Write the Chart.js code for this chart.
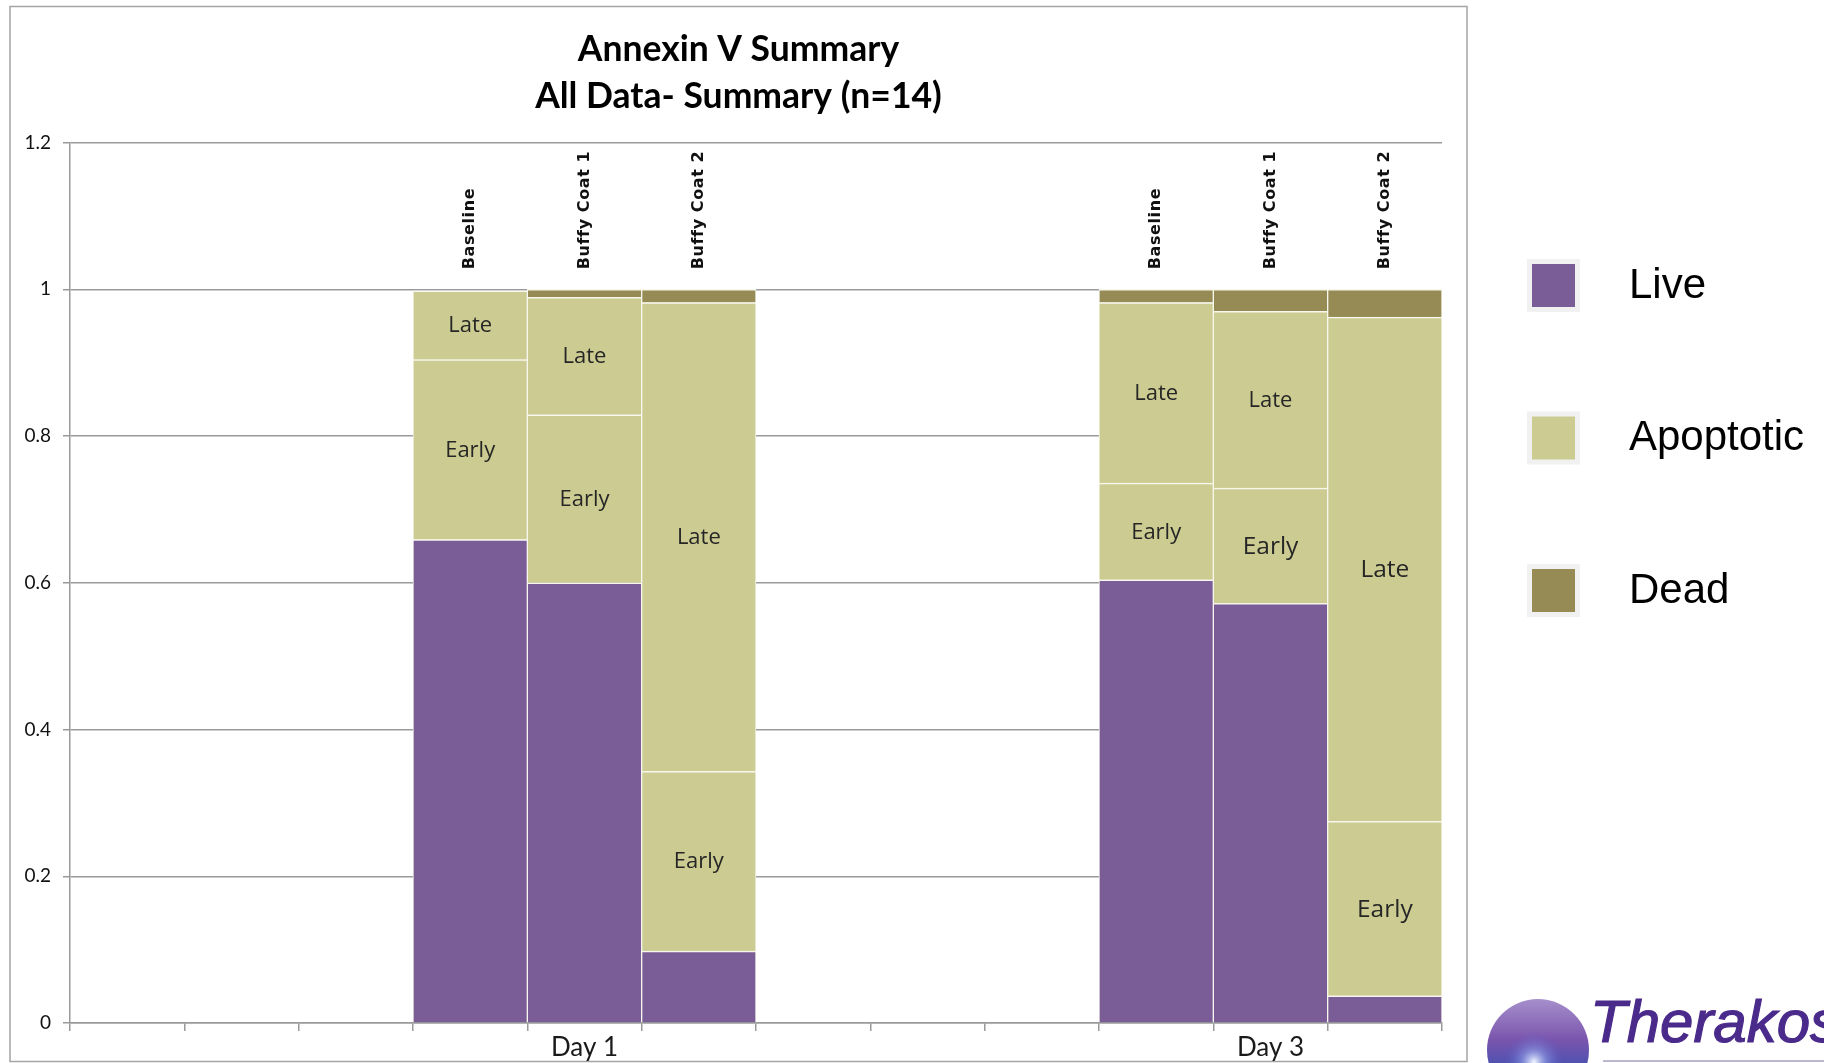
<!DOCTYPE html>
<html><head><meta charset="utf-8">
<script src="https://cdn.jsdelivr.net/npm/chart.js@4.4.1/dist/chart.umd.min.js"></script>
<style>html,body{margin:0;padding:0;background:#fff;overflow:hidden}canvas{display:block}</style>
</head><body>
<canvas id="c" width="1824" height="1063"></canvas>
<script>
// ---- data ----
const categories = ['', '', '', 'Baseline', 'Buffy Coat 1', 'Buffy Coat 2', '', '', '', 'Baseline', 'Buffy Coat 1', 'Buffy Coat 2'];
const dayLabels  = ['', '', '', '', 'Day 1', '', '', '', '', '', 'Day 3', ''];
const yTickLabels = ['0', '0.2', '0.4', '0.6', '0.8', '1', '1.2'];
const liveValues  = [null, null, null, 0.659, 0.600, 0.098, null, null, null, 0.604, 0.572, 0.037];
const earlyValues = [null, null, null, 0.245, 0.229, 0.245, null, null, null, 0.132, 0.157, 0.238];
const lateValues  = [null, null, null, 0.094, 0.160, 0.639, null, null, null, 0.246, 0.241, 0.687];
const deadValues  = [null, null, null, null,  0.011, 0.018, null, null, null, 0.018, 0.030, 0.038];
const titleLines = ['Annexin V Summary', 'All Data- Summary (n=14)'];
const legendLabels = ['Live', 'Apoptotic', 'Dead'];
const segmentTexts = { early: 'Early', late: 'Late' };

// ---- style ----
const LIVE = '#7A5C96', APO = '#CCCC92', DEAD = '#968B55';
const legendColors = [LIVE, APO, DEAD];
const GRID = '#9a9a9a';
const largeSegLabels = { early: [10, 11], late: [11] };

const frame = {
  id: 'frame',
  beforeDraw(chart) {
    const ctx = chart.ctx;
    ctx.save();
    ctx.fillStyle = '#fff';
    ctx.fillRect(0, 0, chart.width, chart.height);
    ctx.strokeStyle = '#a4a4a4';
    ctx.lineWidth = 1.5;
    ctx.strokeRect(10, 6.5, 1457, 1055);
    ctx.restore();
  },
  afterDraw(chart) {
    const ctx = chart.ctx;
    ctx.save();
    // legend
    legendLabels.forEach((lab, i) => {
      const cy = 285.5 + i * 152.5;
      ctx.fillStyle = '#f1f1f1';
      ctx.fillRect(1527, cy - 26.5, 53, 53);
      ctx.fillStyle = legendColors[i];
      ctx.fillRect(1532, cy - 21.5, 43, 43);
      ctx.fillStyle = '#000';
      ctx.font = '42px "Liberation Sans", Arial, sans-serif';
      ctx.textAlign = 'left';
      ctx.textBaseline = 'alphabetic';
      ctx.fillText(lab, 1629, cy + 12);
    });
    // logo
    const cx = 1538, cyg = 1050, r = 51;
    const g = ctx.createLinearGradient(0, cyg - r, 0, cyg + r);
    g.addColorStop(0, '#a68fcc');
    g.addColorStop(0.4, '#7a55ad');
    g.addColorStop(0.72, '#4150b2');
    g.addColorStop(1, '#1d3a9a');
    ctx.beginPath(); ctx.arc(cx, cyg, r, 0, Math.PI * 2); ctx.fillStyle = g; ctx.fill();
    const h = ctx.createRadialGradient(cx - 4, cyg + 12, 1, cx - 4, cyg + 12, 30);
    h.addColorStop(0, 'rgba(240,245,255,0.95)');
    h.addColorStop(0.4, 'rgba(150,170,240,0.5)');
    h.addColorStop(1, 'rgba(80,90,200,0)');
    ctx.beginPath(); ctx.arc(cx, cyg, r, 0, Math.PI * 2); ctx.fillStyle = h; ctx.fill();
    ctx.fillStyle = '#4a2a8a';
    ctx.font = 'italic 60px "Liberation Sans", Arial, sans-serif';
    ctx.textAlign = 'left';
    ctx.lineWidth = 1.2; ctx.strokeStyle = '#4a2a8a';
    ctx.fillText('Therakos', 1590, 1042);
    ctx.strokeText('Therakos', 1590, 1042);
    ctx.strokeStyle = '#a79fc2'; ctx.lineWidth = 1.5;
    ctx.beginPath(); ctx.moveTo(1603, 1061); ctx.lineTo(1824, 1061); ctx.stroke();
    ctx.restore();
  }
};

const barText = {
  id: 'barText',
  afterDatasetsDraw(chart) {
    const ctx = chart.ctx;
    const xs = chart.scales.x, ys = chart.scales.y;
    ctx.save();
    // segment labels
    chart.data.datasets.forEach((ds, di) => {
      if (!ds.segKey) return;
      const meta = chart.getDatasetMeta(di);
      meta.data.forEach((el, i) => {
        if (ds.data[i] == null) return;
        const p = el.getProps(['x', 'y', 'base'], true);
        const big = largeSegLabels[ds.segKey].includes(i);
        ctx.font = (big ? 24.5 : 22) + 'px "Open Sans", sans-serif';
        ctx.fillStyle = '#262626';
        ctx.textAlign = 'center';
        ctx.textBaseline = 'middle';
        ctx.fillText(segmentTexts[ds.segKey], p.x, (p.y + p.base) / 2 + 1);
      });
    });
    // rotated category names
    const yTop = ys.getPixelForValue(1) - 20;
    categories.forEach((c, i) => {
      if (!c) return;
      const x = xs.getPixelForValue(i);
      ctx.save();
      ctx.translate(x, yTop);
      ctx.rotate(-Math.PI / 2);
      ctx.font = 'bold 16px "DejaVu Sans", sans-serif';
      ctx.letterSpacing = '0.6px';
      ctx.fillStyle = '#111';
      ctx.textAlign = 'left';
      ctx.textBaseline = 'middle';
      ctx.fillText(c, 0, 0);
      ctx.restore();
    });
    ctx.restore();
  }
};

const segBorder = { top: 1.5, left: 1, right: 1, bottom: 0 };
const common = { borderColor: '#f7f7ee', borderWidth: segBorder, borderSkipped: false, barPercentage: 1, categoryPercentage: 1 };

new Chart(document.getElementById('c'), {
  type: 'bar',
  data: {
    labels: categories,
    datasets: [
      Object.assign({ label: 'Live', data: liveValues, backgroundColor: LIVE }, common),
      Object.assign({ label: 'Early', data: earlyValues, backgroundColor: APO, segKey: 'early' }, common),
      Object.assign({ label: 'Late', data: lateValues, backgroundColor: APO, segKey: 'late' }, common),
      Object.assign({ label: 'Dead', data: deadValues, backgroundColor: DEAD }, common)
    ]
  },
  options: {
    responsive: false,
    devicePixelRatio: 1,
    animation: false,
    layout: { padding: { left: 10, right: 357, top: 0, bottom: 0 } },
    plugins: {
      legend: { display: false },
      tooltip: { enabled: false },
      title: {
        display: true,
        text: titleLines,
        color: '#000',
        font: { family: 'Lato', size: 35.5, weight: 'bold', lineHeight: 1.324 },
        padding: { top: 26.5, bottom: 22 }
      }
    },
    scales: {
      x: {
        stacked: true,
        offset: true,
        grid: { display: true, drawOnChartArea: false, drawTicks: true, tickLength: 8, offset: true, color: GRID, lineWidth: 1.5 },
        border: { display: true, color: GRID, width: 1.5 },
        ticks: {
          autoSkip: false, maxRotation: 0, padding: 1, color: '#1a1a1a',
          font: { family: 'Lato', size: 26 },
          callback: (v, i) => dayLabels[i]
        },
        afterFit(s) { s.height = 40; }
      },
      y: {
        stacked: true,
        min: 0, max: 1.2,
        grid: { color: GRID, lineWidth: 1.5, drawTicks: true, tickLength: 7 },
        border: { display: true, color: GRID, width: 1.5 },
        ticks: {
          stepSize: 0.2, padding: 12, color: '#111',
          font: { family: 'Lato', size: 19 },
          callback: (v) => yTickLabels[Math.round(v / 0.2)]
        },
        afterFit(s) { s.width = 60; }
      },
      yR: {
        type: 'linear', position: 'right', display: true,
        grid: { display: false }, border: { display: false }, ticks: { display: false },
        afterFit(s) { s.width = 25; }
      }
    }
  },
  plugins: [frame, barText]
});
</script>
</body></html>
